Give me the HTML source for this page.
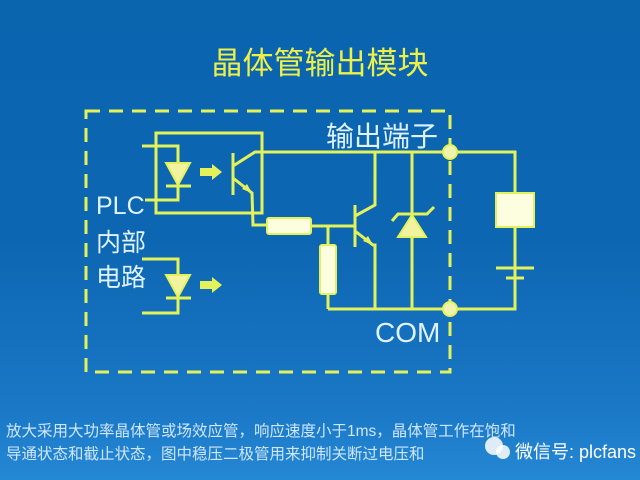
<!DOCTYPE html>
<html><head><meta charset="utf-8"><style>
body{margin:0;width:640px;height:480px;overflow:hidden;background:linear-gradient(180deg,#0a64ae 0%,#0d66b2 50%,#1a78c6 85%,#2588d4 100%);font-family:"Liberation Sans","Noto Sans CJK SC",sans-serif;}
</style></head><body>
<svg width="640" height="480" xmlns="http://www.w3.org/2000/svg" style="position:absolute;left:0;top:0">
<g stroke="#e4f25a" stroke-width="3" fill="none">
<rect x="86" y="111" width="364" height="261" stroke-dasharray="14,9"/>
<rect x="156" y="133" width="106" height="80"/>
<polyline points="142,146 178,146 178,200 145,200"/>
<line x1="166" y1="186" x2="191" y2="186"/>
<line x1="233" y1="153" x2="233" y2="195"/>
<polyline points="233,166 255,152 515,152 515,309 328,309"/>
<polyline points="233,178 252,193 253,225 267,225"/>
<line x1="311" y1="226" x2="355" y2="226"/>
<line x1="328" y1="226" x2="328" y2="245"/>
<line x1="328" y1="294" x2="328" y2="309"/>
<line x1="355" y1="205" x2="355" y2="247"/>
<polyline points="355,216 375,205 375,152"/>
<polyline points="355,231 373,245 375,245 375,309"/>
<line x1="412" y1="152" x2="412" y2="309"/>
<polyline points="392,221 398,214 427,214 434,207"/>
<polyline points="142,259 178,259 178,313 142,313"/>
<line x1="166" y1="298" x2="191" y2="298"/>
<line x1="496" y1="268" x2="534" y2="268"/>
<line x1="506" y1="278" x2="524" y2="278"/>
</g>
<g fill="#f2f3a0" stroke="#e4f25a" stroke-width="2">
<polygon points="166,163 190,163 178,185"/>
<polygon points="166,275 190,275 178,297"/>
<polygon points="398,237 426,237 412,215"/>
<rect x="267" y="218" width="44" height="16" rx="2" fill="#fdfde0"/>
<rect x="320" y="245" width="16" height="49" rx="2" fill="#fdfde0"/>
<rect x="496" y="193" width="38" height="34" fill="#fdfde0"/>
<circle cx="450" cy="152" r="7" fill="#f0f3b0"/>
<circle cx="450" cy="309" r="7" fill="#f0f3b0"/>
</g>
<g fill="#e4f25a">
<polygon points="252,193 242,189 247,184"/>
<polygon points="373,245 363,241 368,236"/>
<polygon points="200,168 212,168 212,164 222,172 212,180 212,176 200,176"/>
<polygon points="200,281 212,281 212,277 222,285 212,293 212,289 200,289"/>
</g>
<text x="320" y="74" text-anchor="middle" font-size="31" fill="#eef04a" font-family="Liberation Sans,Noto Sans CJK SC,sans-serif">晶体管输出模块</text>
<g fill="#dff2ff" font-family="Liberation Sans,Noto Sans CJK SC,sans-serif">
<text x="326" y="146" font-size="28">输出端子</text>
<text x="96" y="214" font-size="25">PLC</text>
<text x="96" y="251" font-size="25">内部</text>
<text x="96" y="286" font-size="25">电路</text>
<text x="375" y="342" font-size="28">COM</text>
</g>
<g fill="#cfe6fb" font-size="15.5" font-family="Liberation Sans,Noto Sans CJK SC,sans-serif">
<text x="6" y="436">放大采用大功率晶体管或场效应管，响应速度小于1ms，晶体管工作在饱和</text>
<text x="6" y="459">导通状态和截止状态，图中稳压二极管用来抑制关断过电压和</text>
</g>
<circle cx="494" cy="446" r="9" fill="#fff" opacity="0.85"/>
<circle cx="503" cy="452" r="7" fill="#fff" opacity="0.85"/>
<text x="515" y="458" font-size="18" fill="#fff" font-family="Liberation Sans,Noto Sans CJK SC,sans-serif">微信号: plcfans</text>
</svg>
</body></html>
